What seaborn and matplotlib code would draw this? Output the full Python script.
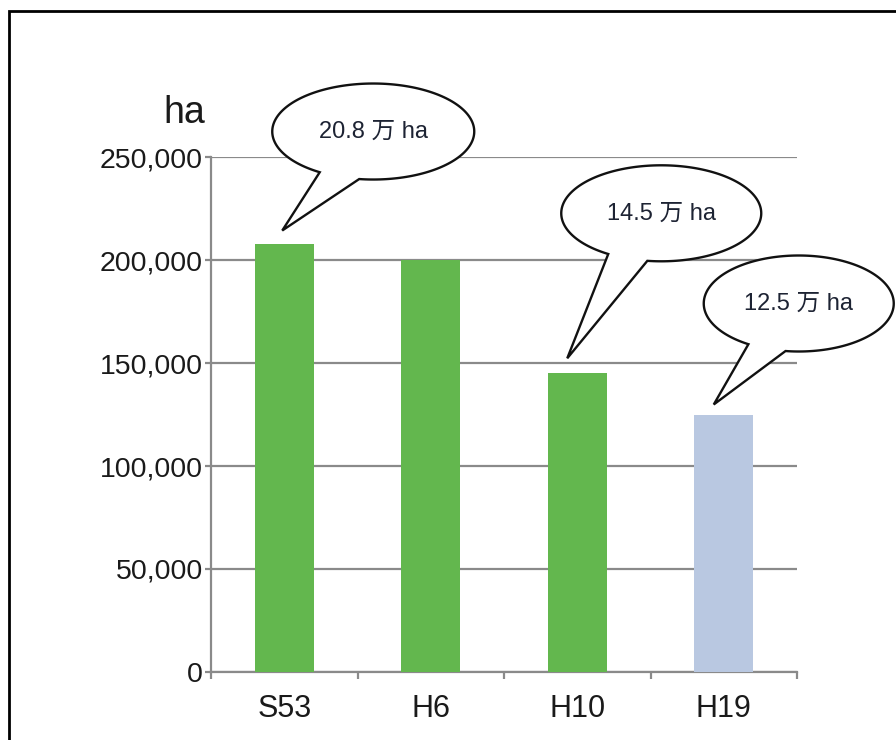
import numpy as np
import matplotlib
matplotlib.use("Agg")
import matplotlib.pyplot as plt
from matplotlib.path import Path
from matplotlib.patches import PathPatch, Rectangle
from matplotlib.transforms import IdentityTransform
import seaborn as sns

# Cultivated area (ha) by survey year
categories = ["S53", "H6", "H10", "H19"]
values = [208000, 200000, 145000, 125000]
bar_colors = ["#63b74e", "#63b74e", "#63b74e", "#b9c8e1"]
callout_texts = ["20.8 万 ha", None, "14.5 万 ha", "12.5 万 ha"]
y_ticks = [0, 50000, 100000, 150000, 200000, 250000]
y_tick_labels = ["0", "50,000", "100,000", "150,000", "200,000", "250,000"]
unit_label = "ha"

sns.set_theme(style="white")
plt.rcParams["font.family"] = ["Liberation Sans", "Noto Sans CJK JP", "DejaVu Sans"]

W, H, DPI = 896, 740, 100
fig = plt.figure(figsize=(W / DPI, H / DPI), dpi=DPI)
ax = fig.add_axes([211 / W, (H - 672) / H, 586 / W, 515 / H])

grey = "#8a8a8a"
sns.barplot(x=categories, y=values, hue=categories, palette=bar_colors,
            legend=False, width=0.4, saturation=1, linewidth=0, ax=ax,
            zorder=3)

ax.set_xlim(-0.5, len(categories) - 0.5)
ax.set_ylim(0, 250000)
ax.set_yticks(y_ticks)
ax.set_yticklabels(y_tick_labels, fontsize=20.5, color="#1a1a1a")
ax.set_xticks(range(len(categories)))
ax.set_xticklabels(categories, fontsize=22, color="#1a1a1a")
ax.set_xticks(np.arange(-0.5, len(categories)), minor=True)
ax.set_xlabel("")
ax.set_ylabel("")

ax.yaxis.grid(True, color=grey, linewidth=1.6, zorder=0)
ax.set_axisbelow(True)
for side in ("top", "right"):
    ax.spines[side].set_visible(False)
for side in ("left", "bottom"):
    ax.spines[side].set_color(grey)
    ax.spines[side].set_linewidth(1.6)
ax.tick_params(axis="y", which="major", left=True, length=4, width=1.6,
               color=grey, pad=2)
ax.tick_params(axis="x", which="major", bottom=False, length=0, pad=16)
ax.tick_params(axis="x", which="minor", bottom=True, length=5, width=1.6,
               color=grey)

ax.text(-0.01, 1.085, unit_label, transform=ax.transAxes, ha="right",
        va="center", fontsize=27, color="#1a1a1a")

# Speech-bubble callouts: tail tip just above the bar, ellipse up and right
fig.canvas.draw()
ell_offsets = {0: (91, 99), 2: (94, 145), 3: (85, 101)}
tip_shift = {0: (-2, 13), 2: (-10, 15), 3: (-10, 10)}
radii = {0: (101, 48), 2: (100, 48), 3: (95, 48)}
for i, txt in enumerate(callout_texts):
    if txt is None:
        continue
    bx, by = ax.transData.transform((i, values[i]))
    tx, ty = bx + tip_shift[i][0], by + tip_shift[i][1]
    cx, cy = tx + ell_offsets[i][0], ty + ell_offsets[i][1]
    a, b = radii[i]
    t = np.radians(np.linspace(262, 598, 200))
    pts = np.column_stack([cx + a * np.cos(t), cy + b * np.sin(t)])
    pts = np.vstack([pts, [tx, ty], pts[0]])
    codes = [Path.MOVETO] + [Path.LINETO] * (len(pts) - 2) + [Path.CLOSEPOLY]
    bubble = PathPatch(Path(pts, codes), facecolor="white", edgecolor="#111111",
                       linewidth=1.7, transform=IdentityTransform(),
                       zorder=10)
    fig.add_artist(bubble)
    fig.text(cx / W, cy / H, txt, ha="center", va="center", fontsize=17,
             color="#1d2333", zorder=11)

# Outer frame
frame = Rectangle((9, -20), 920, H - 11 + 20, transform=IdentityTransform(),
                  fill=False, edgecolor="#000000", linewidth=2.0, zorder=20)
fig.add_artist(frame)

fig.savefig("out.png", dpi=DPI)
